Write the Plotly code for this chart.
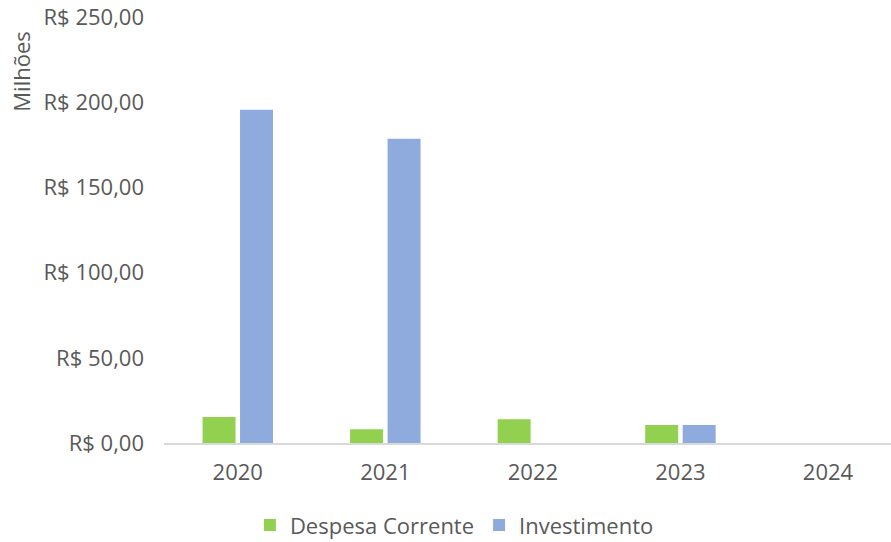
import plotly.graph_objects as go

# Annual spending by type, in millions of reais
anos = ["2020", "2021", "2022", "2023", "2024"]
despesa_corrente = [15.3, 8.0, 13.9, 10.6, 0.0]
investimento = [195.5, 178.6, 0.0, 10.6, 0.0]
y_ticks = [0, 50, 100, 150, 200, 250]
y_tick_labels = ["R$ 0,00", "R$ 50,00", "R$ 100,00", "R$ 150,00", "R$ 200,00", "R$ 250,00"]

FONT = "Open Sans"
TEXT = "#595959"
SIZE = 22

fig = go.Figure()
fig.add_trace(go.Bar(name="Despesa Corrente", x=anos, y=despesa_corrente,
                     marker=dict(color="#92D050", line=dict(width=0))))
fig.add_trace(go.Bar(name="Investimento", x=anos, y=investimento,
                     marker=dict(color="#8FAADC", line=dict(width=0))))

fig.update_layout(
    width=891, height=542,
    margin=dict(l=164, r=0, t=17, b=99),
    plot_bgcolor="white", paper_bgcolor="white",
    barmode="group", bargap=0.492, bargroupgap=0.12,
    font=dict(family=FONT, size=SIZE, color=TEXT),
    showlegend=True,
    legend=dict(orientation="h", xref="container", yref="container",
                x=0.51, xanchor="center", y=0.031, yanchor="middle",
                font=dict(family=FONT, size=SIZE, color=TEXT),
                itemwidth=30, traceorder="normal"),
    xaxis=dict(type="category", range=[-0.5, 4.427], showgrid=False,
               showline=True, linecolor="#D9D9D9", linewidth=2,
               ticks="", ticklabelstandoff=9,
               tickfont=dict(family=FONT, size=SIZE, color=TEXT)),
    yaxis=dict(range=[0, 250], tickvals=y_ticks, ticktext=y_tick_labels,
               showgrid=False, zeroline=False, showline=False, ticks="",
               ticklabelstandoff=19,
               tickfont=dict(family=FONT, size=SIZE, color=TEXT)),
)

fig.add_annotation(text="Milhões", textangle=-90, xref="paper", yref="paper",
                   x=-0.196, y=0.969, xanchor="center", yanchor="top",
                   showarrow=False, font=dict(family=FONT, size=SIZE, color=TEXT))

fig.write_html("out.html")
